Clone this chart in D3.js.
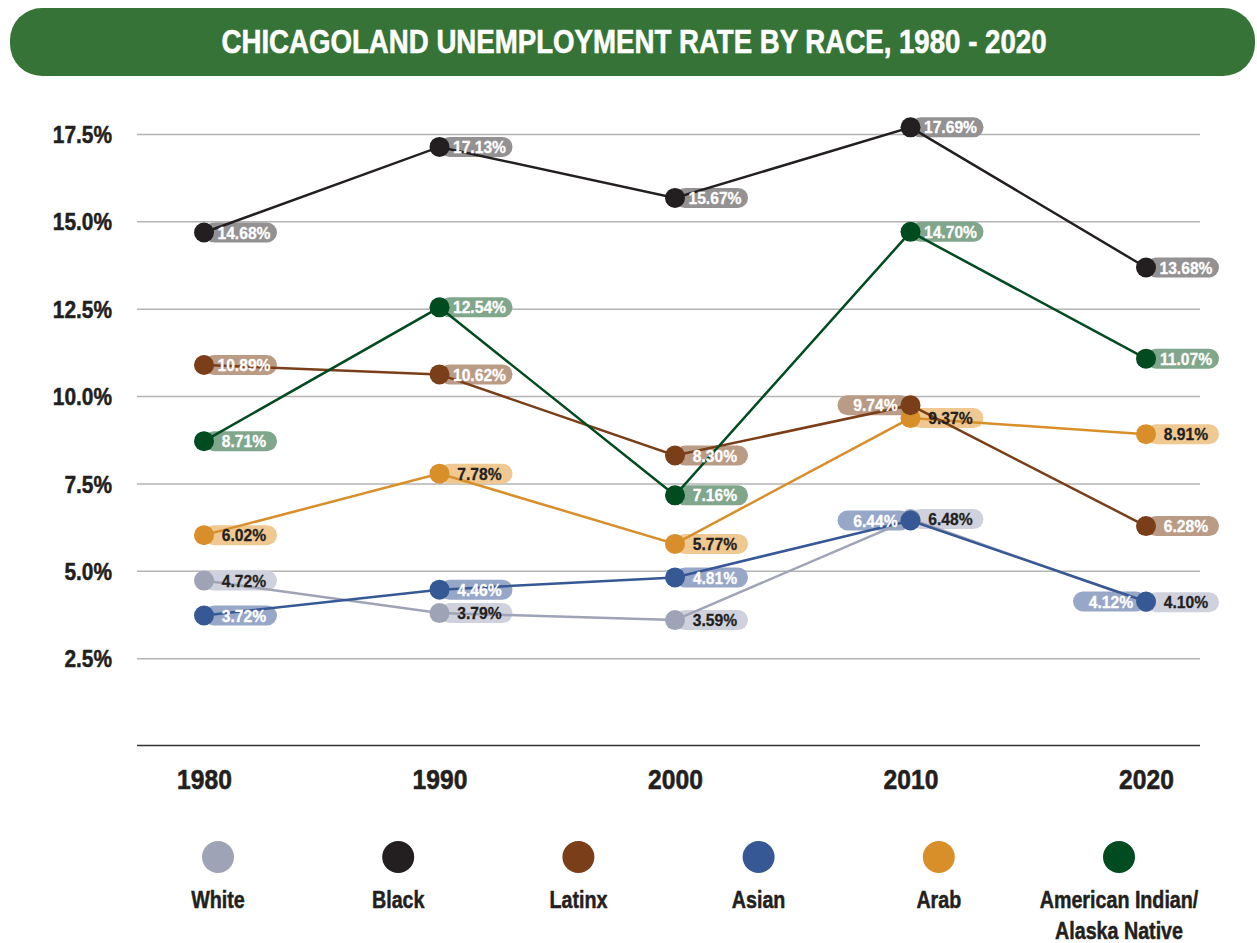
<!DOCTYPE html>
<html>
<head>
<meta charset="utf-8">
<script src="https://cdn.jsdelivr.net/npm/d3@7"></script>
<style>
  html, body { margin: 0; padding: 0; background: #fff; }
  svg text { font-family: "Liberation Sans", Arial, sans-serif; font-weight: bold; }
</style>
</head>
<body>
<svg id="chart" width="1257" height="943"></svg>
<script>
// Census decades on the x axis
const years = [1980, 1990, 2000, 2010, 2020];
const yTicks = [2.5, 5.0, 7.5, 10.0, 12.5, 15.0, 17.5];

// Unemployment rate (%) by group, one value per decade
const white    = [4.72, 3.79, 3.59, 6.48, 4.10];
const black    = [14.68, 17.13, 15.67, 17.69, 13.68];
const latinx   = [10.89, 10.62, 8.30, 9.74, 6.28];
const asian    = [3.72, 4.46, 4.81, 6.44, 4.12];
const arab     = [6.02, 7.78, 5.77, 9.37, 8.91];
const amIndian = [8.71, 12.54, 7.16, 14.70, 11.07];

// Which side of the dot each value label sits on
const whiteSide    = ["r", "r", "r", "r", "r"];
const blackSide    = ["r", "r", "r", "r", "r"];
const latinxSide   = ["r", "r", "r", "l", "r"];
const asianSide    = ["r", "r", "r", "l", "l"];
const arabSide     = ["r", "r", "r", "r", "r"];
const amIndianSide = ["r", "r", "r", "r", "r"];

const series = [
  { name: "White", values: white, side: whiteSide, color: "#9ea3b5", pill: "#cfd2dd", text: "#231f20" },
  { name: "Black", values: black, side: blackSide, color: "#231f20", pill: "#939192", text: "#ffffff" },
  { name: "Latinx", values: latinx, side: latinxSide, color: "#7a3e18", pill: "#ba9b86", text: "#ffffff" },
  { name: "Asian", values: asian, side: asianSide, color: "#365895", pill: "#97a7c8", text: "#ffffff" },
  { name: "Arab", values: arab, side: arabSide, color: "#d88f2a", pill: "#f0c992", text: "#231f20" },
  { name: "American Indian/\nAlaska Native", values: amIndian, side: amIndianSide, color: "#004b1f", pill: "#80a78b", text: "#ffffff" }
];
// Stacking order for the marks (later on top)
const drawOrder = ["White", "Asian", "Arab", "Latinx", "American Indian/\nAlaska Native", "Black"];

// Squeeze text horizontally to a condensed look, with a thin outline for extra weight
function condense(sel, factor, weight) {
  sel.each(function () {
    const t = d3.select(this);
    const w = this.getComputedTextLength();
    t.attr("textLength", w * factor).attr("lengthAdjust", "spacingAndGlyphs");
    if (weight) {
      t.attr("stroke", t.attr("fill") || "#231f20").attr("stroke-width", weight).attr("stroke-linejoin", "round");
    }
  });
}

const svg = d3.select("#chart");

// Title banner
svg.append("rect")
  .attr("x", 10).attr("y", 8).attr("width", 1245).attr("height", 68)
  .attr("rx", 32).attr("ry", 32)
  .attr("fill", "#367337");
svg.append("text")
  .attr("x", 634).attr("y", 53)
  .attr("text-anchor", "middle")
  .attr("fill", "#ffffff")
  .attr("stroke", "#ffffff").attr("stroke-width", 0.6)
  .attr("font-size", 34)
  .text("CHICAGOLAND UNEMPLOYMENT RATE BY RACE, 1980 - 2020")
  .attr("textLength", 825).attr("lengthAdjust", "spacingAndGlyphs");

const x = d3.scalePoint().domain(years).range([204, 1146]);
const y = d3.scaleLinear().domain([0, 17.5]).range([745.5, 134]);

// Horizontal gridlines
const grid = svg.append("g")
  .attr("transform", "translate(137,0)")
  .call(d3.axisLeft(y).tickValues(yTicks).tickSize(-1063).tickFormat(""));
grid.select(".domain").remove();
grid.selectAll(".tick line").attr("stroke", "#b3b3b3").attr("stroke-width", 1.5);

// Y tick labels
const yAxis = svg.append("g")
  .attr("transform", "translate(112,0)")
  .call(d3.axisLeft(y).tickValues(yTicks).tickSize(0).tickPadding(0).tickFormat(d => d3.format(".1f")(d) + "%"));
yAxis.select(".domain").remove();
yAxis.selectAll("text").attr("font-size", 24).attr("fill", "#231f20").attr("dy", "0.36em")
  .attr("font-family", "'Liberation Sans', Arial, sans-serif").call(condense, 0.87, 0.5);

// Baseline
svg.append("line")
  .attr("x1", 137).attr("x2", 1200)
  .attr("y1", y(0)).attr("y2", y(0))
  .attr("stroke", "#333333").attr("stroke-width", 1.6);

// X tick labels
const xAxis = svg.append("g")
  .attr("transform", `translate(0,${y(0)})`)
  .call(d3.axisBottom(x).tickSize(0).tickPadding(0));
xAxis.select(".domain").remove();
xAxis.selectAll("text").attr("font-size", 28).attr("fill", "#231f20").attr("dy", "1.55em")
  .attr("font-family", "'Liberation Sans', Arial, sans-serif").call(condense, 0.88, 0.6);

const ordered = drawOrder.map(n => series.find(s => s.name === n));
const points = ordered.flatMap(s => s.values.map((v, i) => ({ s, v, year: years[i], side: s.side[i] })));

const line = d3.line().x((d, i) => x(years[i])).y(d => y(d));

const pillH = 20, pillW = 73;

// Value label pills
svg.append("g").selectAll("rect").data(points).join("rect")
  .attr("x", d => d.side === "r" ? x(d.year) : x(d.year) - pillW)
  .attr("y", d => y(d.v) - pillH / 2)
  .attr("width", pillW).attr("height", pillH)
  .attr("rx", pillH / 2)
  .attr("fill", d => d.s.pill);

// Lines
svg.append("g").selectAll("path").data(ordered).join("path")
  .attr("d", s => line(s.values))
  .attr("fill", "none")
  .attr("stroke", s => s.color)
  .attr("stroke-width", 2.5);

// Dots
svg.append("g").selectAll("circle").data(points).join("circle")
  .attr("cx", d => x(d.year))
  .attr("cy", d => y(d.v))
  .attr("r", 10)
  .attr("fill", d => d.s.color);

// Value labels
svg.append("g").selectAll("text").data(points).join("text")
  .attr("x", d => d.side === "r" ? x(d.year) + 40 : x(d.year) - 35)
  .attr("y", d => y(d.v))
  .attr("dy", "0.36em")
  .attr("text-anchor", "middle")
  .attr("font-size", 17)
  .attr("fill", d => d.s.text)
  .text(d => d3.format(".2f")(d.v) + "%")
  .call(condense, 0.92, 0.3);

// Legend
const legX = d3.scalePoint().domain(series.map(s => s.name)).range([218, 1119]);
const leg = svg.append("g").selectAll("g").data(series).join("g")
  .attr("transform", s => `translate(${legX(s.name)},0)`);
leg.append("circle").attr("cy", 857).attr("r", 16).attr("fill", s => s.color);
leg.append("text")
  .attr("text-anchor", "middle")
  .attr("font-size", 24)
  .attr("fill", "#231f20")
  .selectAll("tspan").data(s => s.name.split("\n")).join("tspan")
  .attr("x", 0)
  .attr("y", (d, i) => 908 + i * 31)
  .text(d => d)
  .call(condense, 0.82, 0.5);
</script>
</body>
</html>
